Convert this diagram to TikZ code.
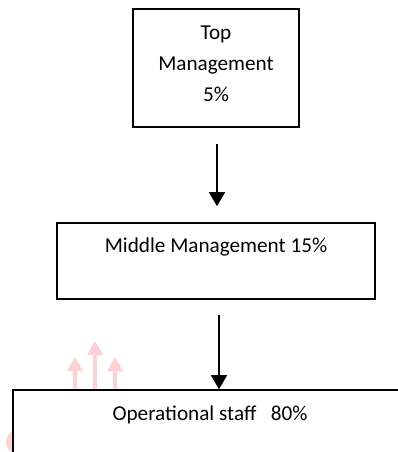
\documentclass[tikz,border=0pt]{standalone}
\usepackage{fontspec}
\setmainfont{Carlito}
\usetikzlibrary{arrows.meta}

\definecolor{faintpink}{RGB}{255,208,212}

\begin{document}
\begin{tikzpicture}[x=0.5pt,y=-0.5pt,
  levelbox/.style={draw=black,line width=0.8pt,fill=white,inner sep=0pt},
  leveltext/.style={font=\fontsize{10.6}{15.4}\selectfont,align=center},
  flow/.style={draw,line width=0.75pt,-{Triangle[width=8pt,length=7pt]}},
  wmark/.style={draw=faintpink,line width=1.6pt,-{Triangle[width=7.5pt,length=7pt]}}]
\useasboundingbox (0,0) rectangle (398,452);
% faint marks behind the lowest box
\node (wa) at (75,390) {};
\node (wb) at (95,390) {};
\node (wc) at (115,390) {};
\coordinate (wa') at (75,357);
\coordinate (wb') at (95,341);
\coordinate (wc') at (115,357);
\draw[wmark] (wa.center) -- (wa');
\draw[wmark] (wb.center) -- (wb');
\draw[wmark] (wc.center) -- (wc');
\fill[faintpink] (18,442) circle (12);
% the three levels
\node[levelbox,minimum width=83pt,minimum height=59pt] (top) at (216,68) {};
\node[leveltext] (toptxt) at (216,64) {Top\\Management\\5\%};
\node[levelbox,minimum width=159pt,minimum height=38pt] (mid) at (216,261) {};
\node[leveltext] (midtxt) at (216,247) {Middle Management 15\%};
\node[levelbox,minimum width=210pt,minimum height=60pt] (bot) at (223,450) {};
\node[leveltext] (bottxt) at (210,415) {Operational staff \ \ 80\%};
% arrows
\draw[flow,shorten <=8pt,shorten >=8pt] ([xshift=0.5pt]top.south) -- ([xshift=0.5pt]top.south |- mid.north);
\draw[flow,shorten <=7.5pt] ([xshift=1.5pt]mid.south) -- ([xshift=1.5pt]mid.south |- bot.north);
\end{tikzpicture}
\end{document}
